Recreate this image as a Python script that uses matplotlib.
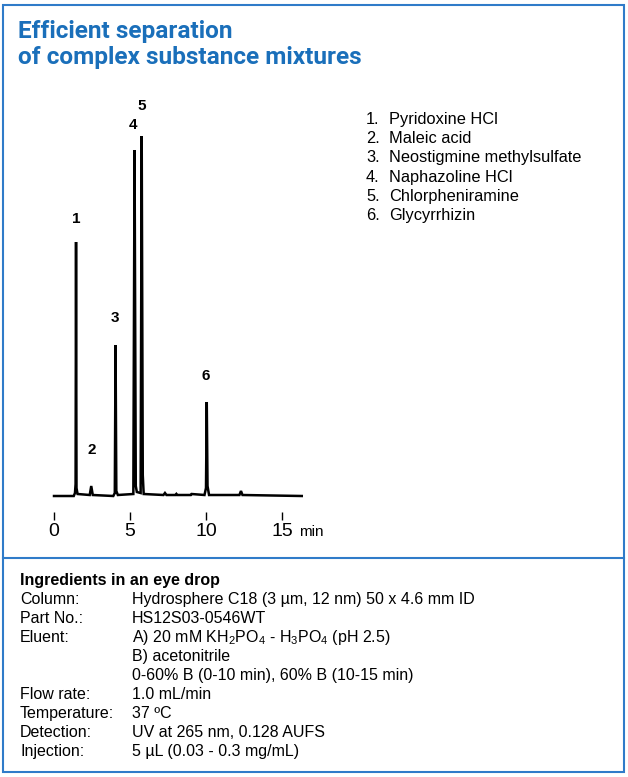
import matplotlib
matplotlib.use("Agg")
import matplotlib.pyplot as plt
from matplotlib.patches import Rectangle
from matplotlib.lines import Line2D

W, H = 628, 777
blue = '#1a6fba'
border = '#2f7bc9'

# chromatogram trace (time in min, detector signal in arbitrary units)
time = [0.0, 1.30, 1.38, 1.42, 1.45, 1.48, 1.55, 2.35, 2.45, 2.55, 3.90, 4.00, 4.05, 4.10, 4.20,
        5.22, 5.30, 5.38, 5.45, 5.70, 5.77, 5.84, 5.90, 7.20, 7.30, 7.40, 8.00, 8.05, 8.10,
        9.00, 9.05, 9.90, 10.00, 10.05, 10.10, 10.20, 12.20, 12.30, 12.40, 16.30]
signal = [0, 0, 3, 12, 254, 8, 2, 1, 10, 1, 0, 3, 151, 5, 1,
          2, 346, 10, 4, 3, 360, 21, 2, 1, 3, 1, 1, 2, 1,
          1, 2, 1, 8, 94, 10, 1, 1, 5, 1, 0]

peak_ids = ['1', '2', '3', '4', '5', '6']
peak_t = [1.45, 2.50, 4.00, 5.20, 5.80, 9.95]
peak_h = [254, 10, 151, 346, 360, 94]
label_gap = [23, 36, 27, 25, 30, 26]

x_ticks = [0, 5, 10, 15]

compounds = ['Pyridoxine HCl', 'Maleic acid', 'Neostigmine methylsulfate',
             'Naphazoline HCl', 'Chlorpheniramine', 'Glycyrrhizin']

conditions = [
    ('Column:', 'Hydrosphere C18 (3 µm, 12 nm) 50 x 4.6 mm ID'),
    ('Part No.:', 'HS12S03-0546WT'),
    ('Eluent:', r'A) 20 mM KH$_2$PO$_4$ - H$_3$PO$_4$ (pH 2.5)'),
    ('', 'B) acetonitrile'),
    ('', '0-60% B (0-10 min), 60% B (10-15 min)'),
    ('Flow rate:', '1.0 mL/min'),
    ('Temperature:', '37 ºC'),
    ('Detection:', 'UV at 265 nm, 0.128 AUFS'),
    ('Injection:', '5 µL (0.03 - 0.3 mg/mL)'),
]

plt.rcParams['mathtext.fontset'] = 'custom'
plt.rcParams['mathtext.rm'] = 'Liberation Sans'

fig = plt.figure(figsize=(W / 100, H / 100), dpi=100)


def fx(x):
    return x / W


def fy(y):
    return 1 - y / H


# frame and divider
fig.add_artist(Rectangle((fx(3), fy(772)), fx(621), (772 - 5) / H, transform=fig.transFigure,
                         fill=False, edgecolor=border, linewidth=1.5))
fig.add_artist(Line2D([fx(3), fx(624)], [fy(558), fy(558)], transform=fig.transFigure,
                      color=border, linewidth=1.5))

fig.text(fx(18), fy(38), 'Efficient separation', color=blue,
         fontsize=17.6, fontweight='bold', family='Roboto', va='baseline')
fig.text(fx(18), fy(64), 'of complex substance mixtures', color=blue,
         fontsize=17.6, fontweight='bold', family='Roboto', va='baseline')

# chromatogram axes: 15.2 px per minute, 1 unit per px
px_min = 15.2
x0 = 54
ax = fig.add_axes([fx(x0 - px_min), fy(516), (19 * px_min) / W, (516 - 90) / H])
ax.set_xlim(-1, 18)
ax.set_ylim(-20, 406)
ax.plot(time, signal, color='black', linewidth=1.8, solid_joinstyle='miter')
for s in ax.spines.values():
    s.set_visible(False)
ax.set_yticks([])
ax.set_xticks(x_ticks)
ax.set_xticklabels([str(t) for t in x_ticks], family='Liberation Sans', fontsize=14)
ax.tick_params(axis='x', direction='inout', length=6, width=1, pad=2)
for pid, t, h, g in zip(peak_ids, peak_t, peak_h, label_gap):
    ax.text(t, h + g, pid, ha='center', va='center', fontsize=11, fontweight='bold',
            family='Liberation Sans')
fig.text(fx(299), fy(536), 'min', fontsize=11, family='Liberation Sans', va='baseline')

# compound list
for i, name in enumerate(compounds):
    y = 124 + i * 19.2
    fig.text(fx(366), fy(y), f'{i + 1}.', fontsize=11.8, family='Liberation Sans', va='baseline')
    fig.text(fx(389), fy(y), name, fontsize=11.8, family='Liberation Sans', va='baseline')

# conditions
fig.text(fx(20), fy(585), 'Ingredients in an eye drop', fontsize=11.5, fontweight='bold',
         family='Liberation Sans', va='baseline')
for i, (lab, val) in enumerate(conditions):
    y = 604 + i * 19
    fig.text(fx(20), fy(y), lab, fontsize=11.5, family='Liberation Sans', va='baseline')
    fig.text(fx(132), fy(y), val, fontsize=11.5, family='Liberation Sans', va='baseline')

fig.savefig('out.png', dpi=100)
